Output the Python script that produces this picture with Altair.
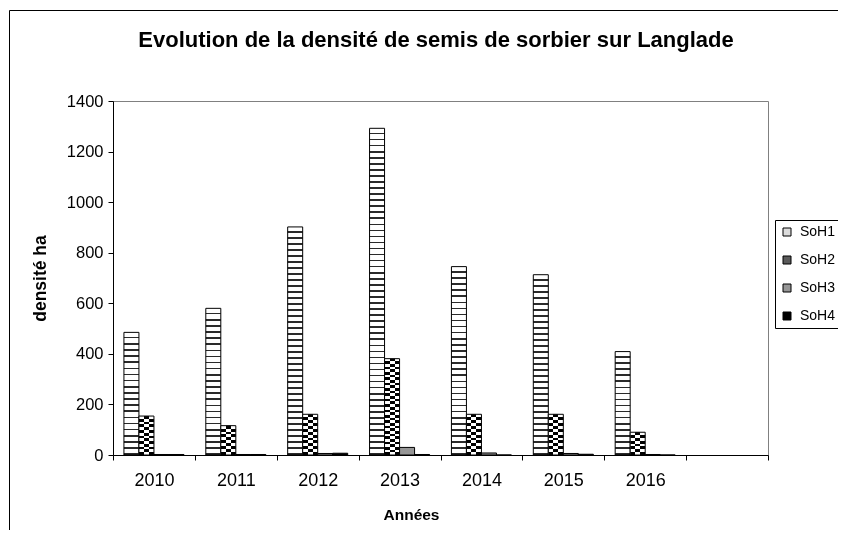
import altair as alt
import pandas as pd

# ---------------- data ----------------
years = ["2010", "2011", "2012", "2013", "2014", "2015", "2016"]
x_categories = years + [""]          # the chart keeps one empty slot on the right
series_names = ["SoH1", "SoH2", "SoH3", "SoH4"]
soh1 = [485, 580, 902, 1292, 745, 713, 409]
soh2 = [154, 116, 161, 381, 161, 161, 90]
soh3 = [2, 2, 6, 30, 8, 6, 2]
soh4 = [2, 2, 7, 2, 0, 3, 0]
y_ticks = [0, 200, 400, 600, 800, 1000, 1200, 1400]

chart_title = "Evolution de la densité de semis de sorbier sur Langlade"
x_title = "Années"
y_title = "densité ha"

rows = []
for s, vals in zip(series_names, [soh1, soh2, soh3, soh4]):
    for yr, v in zip(years, vals):
        rows.append({"year": yr, "series": s, "value": v})
df = pd.DataFrame(rows)

# ---------------- layout ----------------
W, H = 655, 354
YMAX = 1400
FONT = "Liberation Sans"


def stripe_gradient(n, frac_b, col_a, col_b, vertical=True):
    """Repeating two-colour stripes as a Vega linear gradient."""
    stops = []
    for i in range(n):
        a = i / n
        b = (i + 1 - frac_b) / n
        c = (i + 1) / n
        stops += [
            alt.GradientStop(color=col_a, offset=round(a, 5)),
            alt.GradientStop(color=col_a, offset=round(b, 5)),
            alt.GradientStop(color=col_b, offset=round(b, 5)),
            alt.GradientStop(color=col_b, offset=round(c, 5)),
        ]
    if vertical:
        return alt.LinearGradient(gradient="linear", stops=stops, x1=0, x2=0, y1=0, y2=1)
    return alt.LinearGradient(gradient="linear", stops=stops, x1=0, x2=1, y1=0, y2=0)


base = alt.Chart(df).encode(
    x=alt.X(
        "year:N",
        scale=alt.Scale(domain=x_categories, paddingInner=0, paddingOuter=0),
        axis=alt.Axis(
            title=x_title, titleFontSize=15.5, titleFontWeight="bold", titleColor="black",
            titleX=298, titleY=59, titleAlign="center", titleBaseline="middle",
            labelFontSize=18, labelColor="black", labelAngle=0, labelBaseline="middle",
            labelPadding=20, tickSize=5, tickBand="extent", tickColor="black",
            domainColor="black", grid=False, zindex=1,
        ),
    ),
    xOffset=alt.XOffset(
        "series:N",
        scale=alt.Scale(domain=series_names, paddingInner=0, paddingOuter=0.729),
    ),
    y=alt.Y(
        "value:Q",
        scale=alt.Scale(domain=[0, YMAX], nice=False, zero=True),
        axis=alt.Axis(
            values=y_ticks, format="d", title=y_title, titleFontSize=17.5,
            titleFontWeight="bold", titleColor="black", titleAngle=270,
            titleX=-73, titleY=177, titleAlign="center", titleBaseline="middle",
            labelFontSize=16.5, labelColor="black", labelPadding=5, tickSize=5,
            tickColor="black", domainColor="black", grid=False, zindex=1,
        ),
    ),
)

layers = []

# SoH1: wavy hatch approximated by thin dark stripes
for yr, v in zip(years, soh1):
    h = v / YMAX * H
    n = max(1, round(h / 6.0))
    grad = stripe_gradient(n, 0.26, "#ffffff", "#2a2a2a")
    layers.append(
        base.mark_bar(fill=grad, stroke="black", strokeWidth=1)
        .transform_filter(f"datum.series == 'SoH1' && datum.year == '{yr}'")
    )

# SoH2: checkerboard = vertical columns XOR horizontal rows
col_grad = alt.LinearGradient(
    gradient="linear", x1=0, x2=1, y1=0, y2=0,
    stops=[
        alt.GradientStop(color="#ffffff", offset=0),
        alt.GradientStop(color="#ffffff", offset=0.3333),
        alt.GradientStop(color="#000000", offset=0.3333),
        alt.GradientStop(color="#000000", offset=0.6667),
        alt.GradientStop(color="#ffffff", offset=0.6667),
        alt.GradientStop(color="#ffffff", offset=1),
    ],
)
layers.append(
    base.mark_bar(fill=col_grad, strokeWidth=0)
    .transform_filter("datum.series == 'SoH2'")
)
for yr, v in zip(years, soh2):
    h = v / YMAX * H
    n = max(1, round(h / 5.5))
    grad = stripe_gradient(n, 0.5, "#000000", "#ffffff")
    layers.append(
        base.mark_bar(fill=grad, strokeWidth=0, blend="difference")
        .transform_filter(f"datum.series == 'SoH2' && datum.year == '{yr}'")
    )
layers.append(
    base.mark_bar(fill="transparent", stroke="black", strokeWidth=1)
    .transform_filter("datum.series == 'SoH2'")
)

# SoH3 / SoH4: plain fills, these carry the legend
layers.append(
    base.mark_bar(stroke="black", strokeWidth=1)
    .encode(
        color=alt.Color(
            "series:N",
            scale=alt.Scale(domain=series_names,
                            range=["#dcdcdc", "#5a5a5a", "#969696", "#000000"]),
            legend=alt.Legend(
                orient="none", legendX=662, legendY=119, title=None,
                direction="vertical", symbolType="square", symbolSize=64,
                symbolStrokeColor="black", symbolStrokeWidth=1,
                labelFontSize=14, labelFont=FONT, labelColor="black",
                rowPadding=14, padding=5, strokeColor="black", fillColor="white",
                labelOffset=6,
            ),
        )
    )
    .transform_filter("datum.series == 'SoH3' || datum.series == 'SoH4'")
)

# chart title as a text mark above the plot area
title_layer = alt.Chart(pd.DataFrame({"t": [chart_title]})).mark_text(
    fontSize=22, fontWeight="bold", color="black", align="center",
    baseline="alphabetic", font=FONT,
).encode(text="t:N", x=alt.value(323), y=alt.value(-54))
layers.append(title_layer)

# outer chart-area frame
frame = alt.Chart(pd.DataFrame({"k": [0]})).mark_rect(
    fill="transparent", stroke="black", strokeWidth=1
).encode(
    x=alt.value(-103.5), x2=alt.value(900),
    y=alt.value(-90.5), y2=alt.value(700),
)
layers.append(frame)

chart = (
    alt.layer(*layers)
    .properties(
        width=W,
        height=H,
        autosize=alt.AutoSizeParams(type="none"),
        padding={"left": 105, "top": 93, "right": 70, "bottom": 75},
    )
    .configure(font=FONT)
    .configure_view(stroke="#808080", strokeWidth=1)
)

chart.save("out.html", embed_options={"renderer": "svg", "actions": False})
